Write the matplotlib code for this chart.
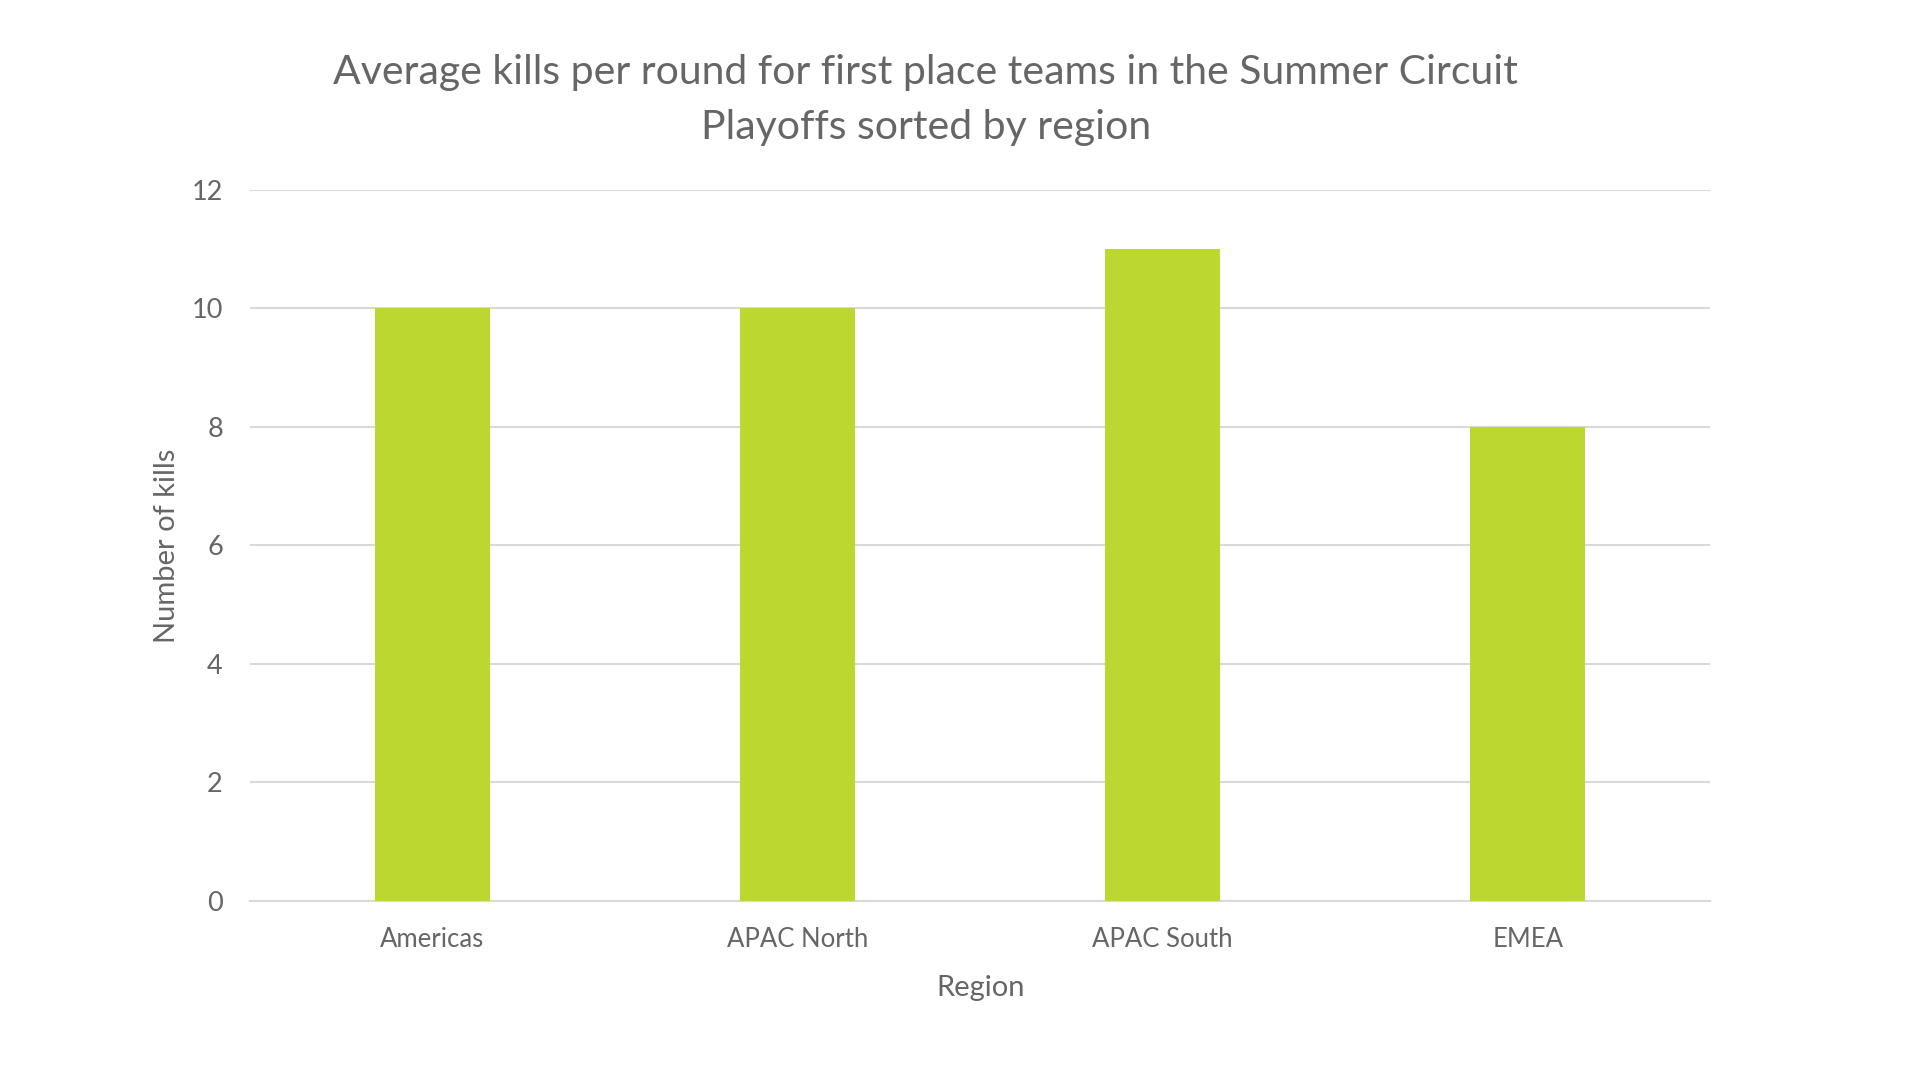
import matplotlib
matplotlib.use("Agg")
import matplotlib.pyplot as plt

regions = ["Americas", "APAC North", "APAC South", "EMEA"]
kills = [10, 10, 11, 8]
yticks = [0, 2, 4, 6, 8, 10, 12]

title = "Average kills per round for first place teams in the Summer Circuit\nPlayoffs sorted by region"
bar_color = "#BDD731"
text_color = "#666666"
grid_color = "#D9D9D9"

plt.rcParams["font.family"] = ["Lato", "DejaVu Sans"]

fig = plt.figure(figsize=(19.2, 10.8), dpi=100)
ax = fig.add_axes([0.1302, 0.1657, 0.7606, 0.6586])

x = range(len(regions))
ax.bar(x, kills, width=0.315, color=bar_color, zorder=3)

ax.set_ylim(0, 12)
ax.set_xlim(-0.5, len(regions) - 0.5)
ax.set_yticks(yticks)
ax.set_xticks(list(x))
ax.set_xticklabels(regions)
ax.grid(axis="y", color=grid_color, linewidth=1.5, zorder=0)
for s in ["top", "right", "left"]:
    ax.spines[s].set_visible(False)
ax.spines["bottom"].set_color(grid_color)
ax.spines["bottom"].set_linewidth(1.5)
ax.tick_params(axis="both", length=0, colors=text_color)
ax.tick_params(axis="y", pad=19.5, labelsize=19.5)
ax.tick_params(axis="x", pad=18.5, labelsize=18.5)

ax.set_xlabel("Region", fontsize=21, color=text_color, labelpad=17)
ax.set_ylabel("Number of kills", fontsize=21, color=text_color, labelpad=8)

fig.text(0.4822, 0.9071, title, ha="center", va="center", fontsize=29.5,
         color=text_color, linespacing=1.6)

fig.savefig("out.png", dpi=100, facecolor="white")
